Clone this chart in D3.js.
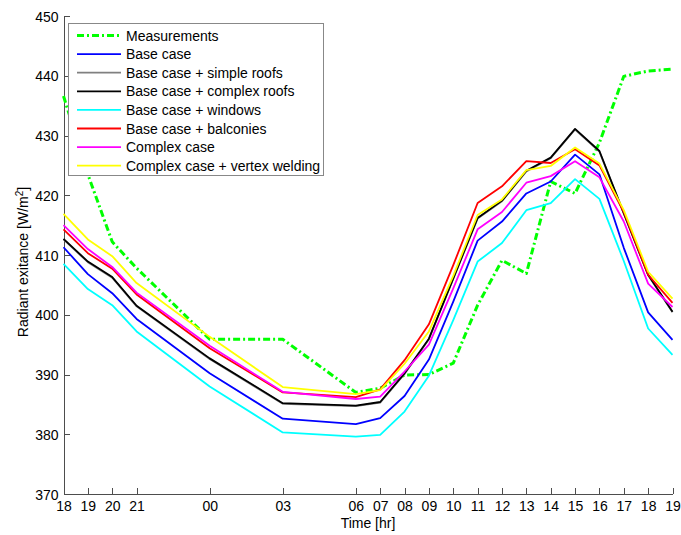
<!DOCTYPE html>
<html>
<head>
<meta charset="utf-8">
<script src="https://cdn.jsdelivr.net/npm/d3@7"></script>
<style>
  body { margin: 0; background: #fff; }
  svg { display: block; font-family: "Liberation Sans", Arial, sans-serif; }
</style>
</head>
<body>
<svg id="chart" width="681" height="535"></svg>
<script>
// hours after 18:00 of the first day, and the clock labels shown at them
var hours = [0, 1, 2, 3, 6, 9, 12, 13, 14, 15, 16, 17, 18, 19, 20, 21, 22, 23, 24, 25];
var hourLabels = ["18","19","20","21","00","03","06","07","08","09","10","11","12","13","14","15","16","17","18","19"];
var yTicks = [370, 380, 390, 400, 410, 420, 430, 440, 450];

var measurements   = [436.6, 423.5, 412.2, 407.8, 395.9, 395.9, 387.0, 387.7, 389.9, 390.0, 391.9, 401.6, 409.1, 406.9, 422.3, 420.3, 428.8, 439.9, 440.8, 441.1];
var baseCase       = [411.3, 406.8, 403.6, 399.3, 390.2, 382.6, 381.7, 382.7, 386.4, 392.5, 402.2, 412.4, 415.6, 420.3, 422.3, 426.8, 423.5, 411.2, 400.4, 395.8];
var simpleRoofs    = [412.6, 408.8, 406.2, 401.4, 392.6, 385.1, 384.7, 385.3, 390.1, 395.9, 406.0, 416.1, 419.0, 424.0, 426.2, 431.0, 427.3, 416.9, 406.6, 400.4];
var complexRoofs   = [412.7, 408.9, 406.3, 401.5, 392.7, 385.2, 384.8, 385.4, 390.2, 396.0, 406.1, 416.2, 419.1, 424.1, 426.3, 431.1, 427.4, 417.0, 406.7, 400.5];
var windows        = [408.5, 404.3, 401.6, 397.2, 388.0, 380.3, 379.6, 379.9, 383.8, 389.8, 399.1, 408.9, 412.0, 417.5, 418.7, 422.7, 419.4, 409.0, 397.7, 393.3];
var balconies      = [414.3, 410.3, 407.7, 403.4, 394.4, 387.0, 386.2, 387.5, 392.4, 398.4, 408.3, 418.7, 421.5, 425.7, 425.4, 427.7, 425.0, 417.2, 406.7, 402.0];
var complexCase    = [415.0, 411.0, 408.0, 403.7, 394.8, 387.1, 385.9, 386.3, 390.5, 395.0, 404.4, 414.3, 417.2, 422.1, 423.2, 425.7, 423.0, 415.6, 405.2, 401.3];
var vertexWelding  = [416.9, 412.6, 409.8, 405.3, 396.3, 387.9, 386.7, 387.4, 391.8, 397.2, 406.5, 416.7, 419.3, 424.2, 424.9, 428.0, 425.3, 417.5, 407.2, 402.7];

var series = [
  {name: "Measurements", values: measurements, color: "#00ff00", width: 3, dash: "7,3,2,3"},
  {name: "Base case", values: baseCase, color: "#0000ff", width: 1.8},
  {name: "Base case + simple roofs", values: simpleRoofs, color: "#808080", width: 1.8},
  {name: "Base case + complex roofs", values: complexRoofs, color: "#000000", width: 1.8},
  {name: "Base case + windows", values: windows, color: "#00ffff", width: 1.8},
  {name: "Base case + balconies", values: balconies, color: "#ff0000", width: 1.8},
  {name: "Complex case", values: complexCase, color: "#ff00ff", width: 1.8},
  {name: "Complex case + vertex welding", values: vertexWelding, color: "#ffff00", width: 1.8}
];

var svg = d3.select("#chart");
var margin = {left: 63.5, right: 672.5, top: 16, bottom: 494};

var x = d3.scaleLinear().domain([0, 25]).range([margin.left, margin.right]);
var y = d3.scaleLinear().domain([370, 450]).range([margin.bottom, margin.top]);

// axes (ticks point inward, no box)
var xAxis = d3.axisBottom(x)
    .tickValues(hours)
    .tickFormat(function(d, i) { return hourLabels[i]; })
    .tickSizeInner(-6).tickSizeOuter(0).tickPadding(7);

var yAxis = d3.axisLeft(y)
    .tickValues(yTicks)
    .tickSizeInner(-6).tickSizeOuter(0).tickPadding(5);

var gx = svg.append("g")
    .attr("transform", "translate(0," + margin.bottom + ")")
    .call(xAxis);
var gy = svg.append("g")
    .attr("transform", "translate(" + margin.left + ",0)")
    .call(yAxis);

[gx, gy].forEach(function(g) {
  g.selectAll("path, line").attr("stroke", "#4d4d4d").attr("shape-rendering", "crispEdges");
  g.selectAll("text").attr("fill", "#000").style("font-size", "14px")
    .style("font-family", "'Liberation Sans', Arial, sans-serif");
});
gy.selectAll("text").attr("dy", "0.36em");

svg.append("text")
    .attr("x", (margin.left + margin.right) / 2)
    .attr("y", 528)
    .attr("text-anchor", "middle")
    .style("font-size", "14px")
    .text("Time [hr]");

var ylab = svg.append("text")
    .attr("transform", "translate(28," + 262 + ") rotate(-90)")
    .attr("text-anchor", "middle")
    .style("font-size", "14px");
ylab.append("tspan").text("Radiant exitance [W/m");
ylab.append("tspan").attr("dy", "-5").style("font-size", "10px").text("2");
ylab.append("tspan").attr("dy", "5").text("]");

// lines
var line = d3.line()
    .x(function(d, i) { return x(hours[i]); })
    .y(function(d) { return y(d); });

svg.append("g").selectAll("path")
    .data(series)
    .enter()
    .append("path")
    .attr("d", function(s) { return line(s.values); })
    .attr("fill", "none")
    .attr("stroke", function(s) { return s.color; })
    .attr("stroke-width", function(s) { return s.width; })
    .attr("stroke-dasharray", function(s) { return s.dash || null; })
    .attr("stroke-linejoin", "round");

// legend
var legend = svg.append("g");
legend.append("rect")
    .attr("x", 68.5).attr("y", 23.5)
    .attr("width", 255).attr("height", 152)
    .attr("fill", "#fff").attr("stroke", "#888");

var rows = legend.selectAll("g.row")
    .data(series)
    .enter()
    .append("g")
    .attr("class", "row")
    .attr("transform", function(s, i) { return "translate(0," + (35.5 + i * 18.6) + ")"; });

rows.append("line")
    .attr("x1", 77).attr("x2", 121)
    .attr("stroke", function(s) { return s.color; })
    .attr("stroke-width", function(s) { return s.width; })
    .attr("stroke-dasharray", function(s) { return s.dash || null; });

rows.append("text")
    .attr("x", 126)
    .attr("dy", "0.36em")
    .style("font-size", "14px")
    .text(function(s) { return s.name; });
</script>
</body>
</html>
